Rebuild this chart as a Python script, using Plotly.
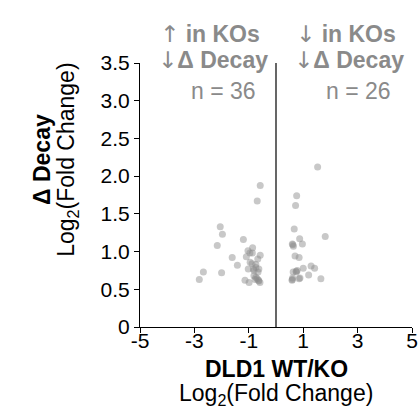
import plotly.graph_objects as go

# Left group (x<0): up in KOs, down decay
left_x = [-0.58, -0.69, -2.05, -1.97, -2.16, -1.20, -0.86, -1.03, -0.96, -0.87,
          -0.58, -1.09, -0.67, -1.61, -0.88, -0.74, -1.42, -1.02, -0.83, -0.63,
          -0.74, -2.00, -2.67, -2.82, -0.81, -0.74, -0.69, -0.64, -0.63, -1.14,
          -0.99, -0.77, -0.59, -0.95, -0.66, -0.81]
left_y = [1.875, 1.67, 1.33, 1.23, 1.08, 1.16, 1.05, 1.01, 0.98, 0.98,
          0.95, 0.93, 0.90, 0.92, 0.84, 0.83, 0.82, 0.77, 0.77, 0.77,
          0.79, 0.72, 0.73, 0.63, 0.68, 0.66, 0.64, 0.62, 0.61, 0.62,
          0.59, 0.63, 0.59, 0.86, 0.73, 0.75]

# Right group (x>0)
right_x = [1.53, 0.76, 0.72, 0.67, 0.87, 0.60, 0.64, 0.97, 1.81, 0.70,
           0.85, 1.00, 1.29, 1.42, 0.63, 0.74, 0.78, 1.20, 1.65, 0.61,
           0.59, 0.88, 0.85, 0.62, 0.75, 0.60]
right_y = [2.12, 1.74, 1.61, 1.30, 1.17, 1.10, 1.07, 1.10, 1.20, 0.94,
           0.92, 0.78, 0.81, 0.78, 0.73, 0.74, 0.75, 0.69, 0.64, 0.65,
           0.62, 0.65, 0.64, 1.09, 0.73, 0.63]

x_ticks = [-5, -3, -1, 1, 3, 5]
y_ticks = [0, 0.5, 1.0, 1.5, 2.0, 2.5, 3.0, 3.5]
y_ticktext = ["0", "0.5", "1.0", "1.5", "2.0", "2.5", "3.0", "3.5"]

left_label = [("\u2191", " in KOs"), ("\u2193", "\u0394 Decay"), (None, "n = 36")]
right_label = [("\u2193", " in KOs"), ("\u2193", "\u0394 Decay"), (None, "n = 26")]
x_title = ["DLD1 WT/KO", "Log<sub>2</sub>(Fold Change)"]
y_title = ["\u0394 Decay", "Log<sub>2</sub>(Fold Change)"]

FONT = "Liberation Sans, Arial, sans-serif"
ARROW_STYLE = "font-family:'DejaVu Sans';font-weight:normal"
GRAY = "#8a8a8a"
marker = dict(size=7, color="rgba(140,140,140,0.48)", line=dict(width=0))

fig = go.Figure()
fig.add_trace(go.Scatter(x=left_x, y=left_y, mode="markers", marker=marker,
                         showlegend=False, hoverinfo="skip"))
fig.add_trace(go.Scatter(x=right_x, y=right_y, mode="markers", marker=marker,
                         showlegend=False, hoverinfo="skip"))

fig.add_shape(type="line", x0=0, x1=0, y0=0, y1=3.5, xref="x", yref="y",
              line=dict(color="black", width=1.2))

# group labels, one annotation per line
line_y = [1.110, 1.011, 0.894]
left_xc = [-2.43, -2.32, -1.93]
right_xc = [2.57, 2.68, 3.05]
for xcs, lines in ((left_xc, left_label), (right_xc, right_label)):
    for xc, yc, (arrow, txt) in zip(xcs, line_y, lines):
        if arrow is None:
            html = txt
        else:
            html = f"<span style=\"{ARROW_STYLE}\">{arrow}</span><b>{txt}</b>"
        fig.add_annotation(x=xc, y=yc, xref="x", yref="paper",
                           xanchor="center", yanchor="middle",
                           text=html, showarrow=False,
                           font=dict(family=FONT, size=23, color=GRAY))

# x axis title (two lines)
for yc, txt, bold in ((-0.158, x_title[0], True), (-0.255, x_title[1], False)):
    fig.add_annotation(x=0.5, y=yc, xref="paper", yref="paper",
                       xanchor="center", yanchor="middle",
                       text=f"<b>{txt}</b>" if bold else txt, showarrow=False,
                       font=dict(family=FONT, size=23, color="black"))

# y axis title (two lines, rotated)
for xc, txt, bold in ((-0.360, y_title[0], True), (-0.265, y_title[1], False)):
    fig.add_annotation(x=xc, y=0.633, xref="paper", yref="paper",
                       xanchor="center", yanchor="middle", textangle=-90,
                       text=f"<b>{txt}</b>" if bold else txt, showarrow=False,
                       font=dict(family=FONT, size=23, color="black"))

fig.update_layout(
    width=419, height=408,
    margin=dict(l=140, r=7, t=63, b=81),
    plot_bgcolor="white", paper_bgcolor="white",
    font=dict(family=FONT, size=21, color="black"),
    xaxis=dict(range=[-5, 5], tickvals=x_ticks, ticktext=[str(v) for v in x_ticks],
               showline=True, linecolor="black", linewidth=1.2, ticks="outside",
               ticklen=5, tickcolor="black", showgrid=False, zeroline=False,
               tickfont=dict(size=21), automargin=False, ticklabelstandoff=-10),
    yaxis=dict(range=[0, 3.5], tickvals=y_ticks, ticktext=y_ticktext,
               showline=True, linecolor="black", linewidth=1.2, ticks="outside",
               ticklen=5, tickcolor="black", showgrid=False, zeroline=False,
               tickfont=dict(size=21), automargin=False),
)

fig.write_html("out.html")
